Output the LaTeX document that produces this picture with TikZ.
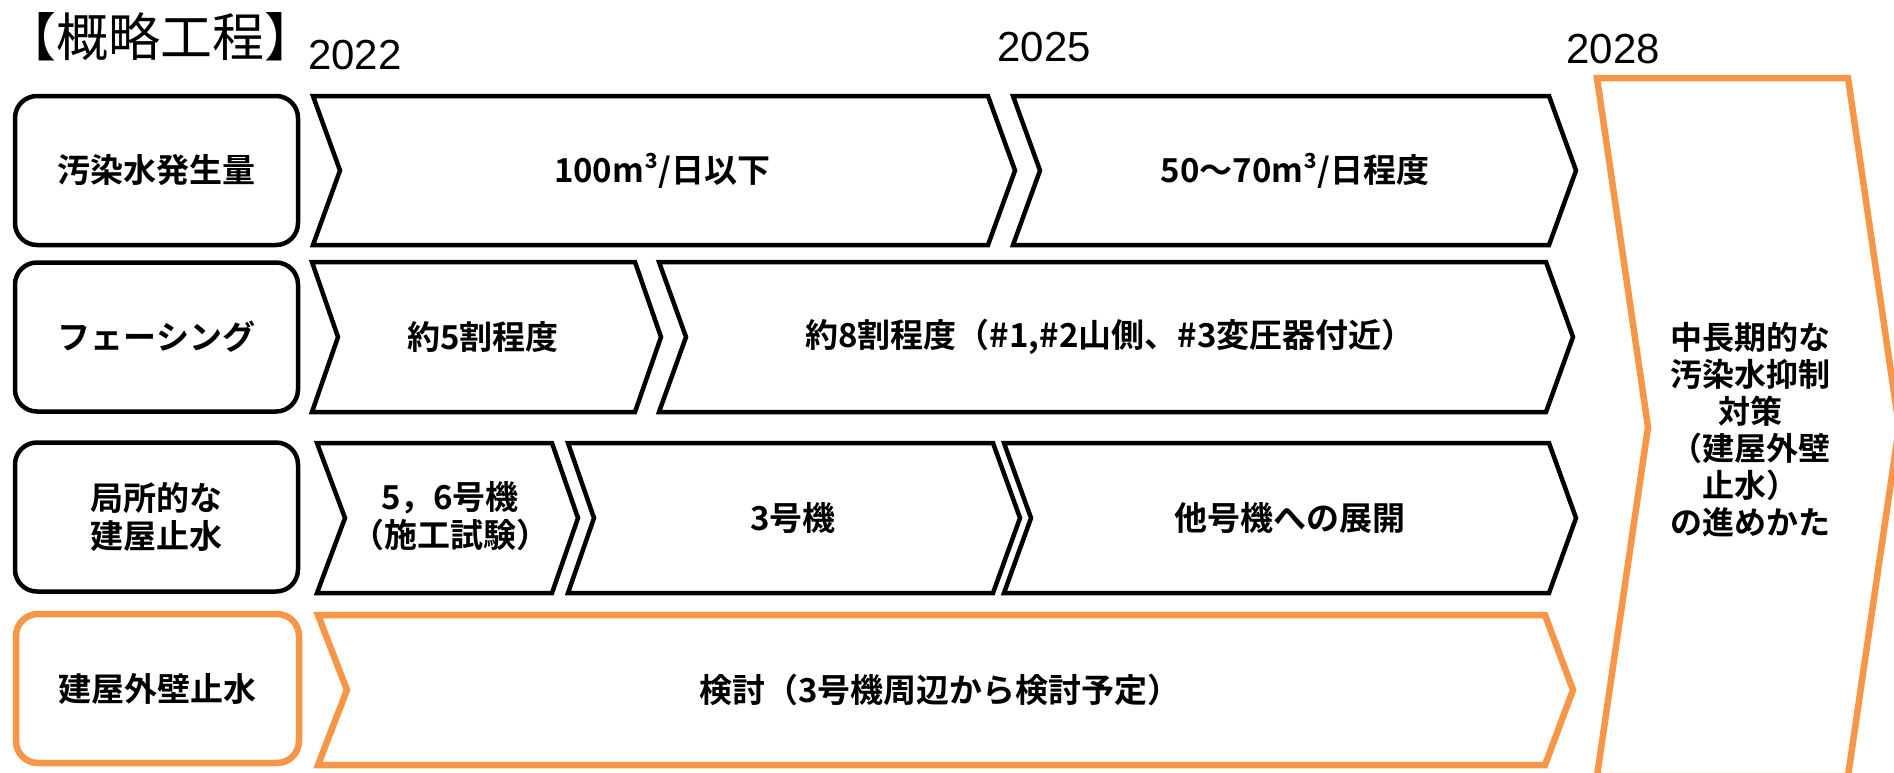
\documentclass[tikz,border=0pt]{standalone}
\usepackage{fontspec}
\setmainfont{Noto Sans CJK JP}[BoldFont={Noto Sans CJK JP Bold}]
\newfontfamily\yearfont{Liberation Sans}
\usepackage{tikz}
\definecolor{orange2}{RGB}{247,150,70}
\tikzset{
  labelbox/.style={draw=black, line width=2.25pt, rounded corners=11pt, fill=white,
    minimum width=141.5pt, minimum height=74.5pt, align=center, inner sep=0pt,
    font=\bfseries\fontsize{16.5}{19}\selectfont},
  planbox/.style={labelbox, draw=orange2, line width=3.25pt},
  chevline/.style={draw=black, line width=2.25pt, fill=white},
  planchev/.style={draw=orange2, line width=3.25pt, fill=white},
  chevtext/.style={align=center, inner sep=0pt, font=\bfseries\fontsize{16.5}{19}\selectfont},
  yeartext/.style={inner sep=0pt, font=\yearfont\fontsize{21}{21}\selectfont}
}

\begin{document}
\begin{tikzpicture}[x=0.5pt, y=-0.5pt]
\useasboundingbox (0,0) rectangle (1894,772);

% title and years
\node[inner sep=0pt, font=\fontsize{26}{26}\selectfont] (title) at (160,37) {【概略工程】};
\node[yeartext] (y2022) at (355,55) {2022};
\node[yeartext] (y2025) at (1044,47) {2025};
\node[yeartext] (y2028) at (1613,49) {2028};

% row labels
\node[labelbox] (amount) at (156.5,170.5) {汚染水発生量};
\node[labelbox] (facing) at (156.5,337) {フェーシング};
\node[labelbox] (local) at (156.5,517) {局所的な\\建屋止水};
\node[planbox] (outer) at (157.5,688.5) {建屋外壁止水};

% row 1
\draw[chevline] (313,96) -- (988,96) -- (1015,170.5) -- (988,245) -- (313,245) -- (340,170.5) -- cycle;
\draw[chevline] (1013,96) -- (1549,96) -- (1576,170.5) -- (1549,245) -- (1013,245) -- (1040,170.5) -- cycle;
\node[chevtext] (amountA) at (662,170.5) {100m³/日以下};
\node[chevtext] (amountB) at (1295,170.5) {50〜70m³/日程度};

% row 2
\draw[chevline] (312,262) -- (635,262) -- (661,337) -- (635,412) -- (312,412) -- (338,337) -- cycle;
\draw[chevline] (659,262) -- (1546,262) -- (1573,337) -- (1546,412) -- (659,412) -- (686,337) -- cycle;
\node[chevtext] (facingA) at (483,337) {約5割程度};
\node[chevtext] (facingB) at (1110,337) {約8割程度（\#1,\#2山側、\#3変圧器付近）};

% row 3
\draw[chevline] (317,443) -- (552,443) -- (578,518) -- (552,593) -- (317,593) -- (345,518) -- cycle;
\draw[chevline] (568,443) -- (993,443) -- (1020,518) -- (993,593) -- (568,593) -- (594,518) -- cycle;
\draw[chevline] (1004,443) -- (1549,443) -- (1576,518) -- (1549,593) -- (1004,593) -- (1031,518) -- cycle;
\node[chevtext] (localA) at (450,516) {5，6号機\\（施工試験）};
\node[chevtext] (localB) at (793,518) {3号機};
\node[chevtext] (localC) at (1290,518) {他号機への展開};

% row 4
\draw[planchev] (318,615) -- (1545,615) -- (1573,690) -- (1545,765) -- (318,765) -- (347,690) -- cycle;
\node[chevtext] (outerA) at (940,690) {検討（3号機周辺から検討予定）};

% long-term measure
\draw[planchev] (1597,78) -- (1848,78) -- (1899,427) -- (1848,776) -- (1597,776) -- (1648,427) -- cycle;
\node[chevtext, font=\bfseries\fontsize{16}{18.5}\selectfont] (longterm) at (1750,430)
{中長期的な\\汚染水抑制\\対策\\（建屋外壁\\止水）\\の進めかた};
\end{tikzpicture}
\end{document}
